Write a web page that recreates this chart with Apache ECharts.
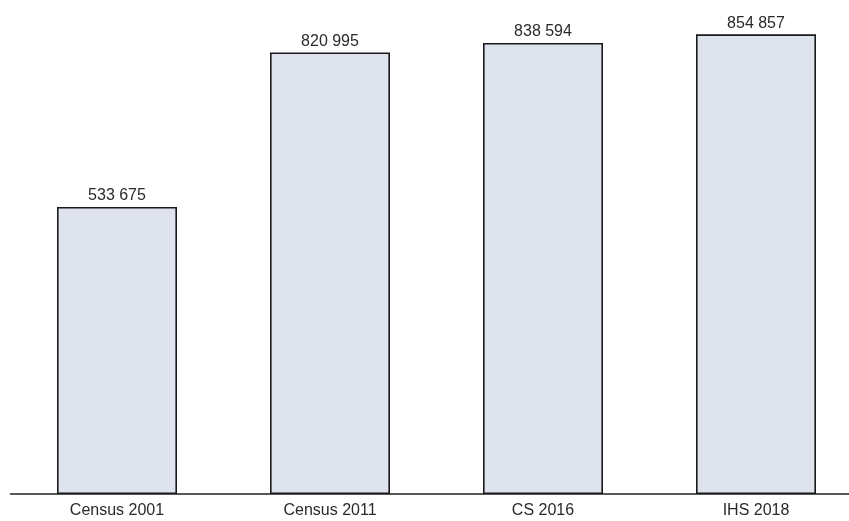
<!DOCTYPE html>
<html>
<head>
<meta charset="utf-8">
<style>
  html, body { margin: 0; padding: 0; background: #ffffff; overflow: hidden; }
  #chart { width: 865px; height: 521px; }
</style>
<script src="https://cdn.jsdelivr.net/npm/echarts@6/dist/echarts.min.js"></script>
</head>
<body>
<div id="chart"></div>
<script>
// Population counts by source
const categories = ['Census 2001', 'Census 2011', 'CS 2016', 'IHS 2018'];
const population = [533675, 820995, 838594, 854857];

// Thousands separated by a space, e.g. "533 675"
function spaced(n) {
  return String(n).replace(/\B(?=(\d{3})+(?!\d))/g, ' ');
}

const chart = echarts.init(document.getElementById('chart'), null, { renderer: 'canvas' });
chart.setOption({
  animation: false,
  backgroundColor: '#ffffff',
  grid: { left: 10.5, right: 2.5, top: 10, bottom: 27, containLabel: false },
  xAxis: {
    type: 'category',
    data: categories,
    axisLine: { show: true, lineStyle: { color: '#222222', width: 1.5 } },
    axisTick: { show: false },
    axisLabel: {
      color: '#2a2a2a',
      fontFamily: 'Liberation Sans, Arial, sans-serif',
      fontSize: 16,
      margin: 9
    }
  },
  yAxis: {
    type: 'value',
    min: 0,
    max: 900000,
    show: false,
    splitLine: { show: false }
  },
  series: [{
    type: 'bar',
    data: population,
    barWidth: 120,
    itemStyle: {
      color: '#dfe3ee',
      borderColor: '#1a1a1a',
      borderWidth: 1.6
    },
    label: {
      show: true,
      position: 'top',
      distance: 3,
      color: '#2a2a2a',
      fontFamily: 'Liberation Sans, Arial, sans-serif',
      fontSize: 16,
      formatter: p => spaced(p.value)
    }
  }]
});
</script>
</body>
</html>
